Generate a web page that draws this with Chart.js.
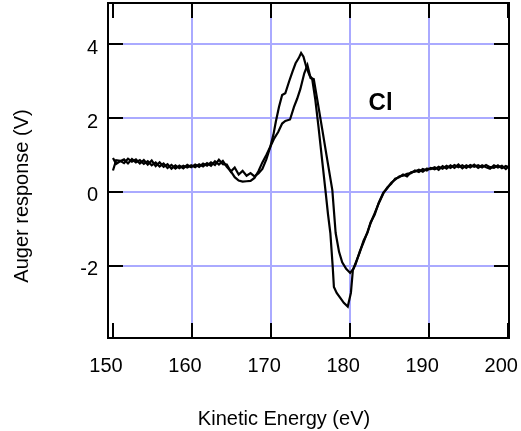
<!DOCTYPE html>
<html>
<head>
<meta charset="utf-8">
<script src="https://cdn.jsdelivr.net/npm/chart.js@4"></script>
<style>
  html, body { margin: 0; padding: 0; background: #fff; }
  #wrap { width: 521px; height: 431px; }
</style>
</head>
<body>
<div id="wrap"><canvas id="auger_chart"></canvas></div>
<script>
// first scan (sharper peak, deeper minimum)
const energyA = [
  150.0, 150.4, 150.9, 151.4, 151.9, 152.4, 152.9, 153.4, 153.9, 154.4,
  154.9, 155.4, 155.9, 156.4, 156.9, 157.4, 157.9, 158.4, 158.9, 159.4,
  159.9, 160.4, 160.9, 161.4, 161.9, 162.4, 162.9, 163.4, 163.9, 164.4,
  164.9, 165.4, 165.9, 166.4, 166.9, 167.4, 167.9, 168.4, 168.9, 169.4,
  169.9, 170.3, 170.6, 171.0, 171.4, 171.8, 172.3, 172.7, 173.1, 173.5,
  173.8, 174.1, 174.5, 174.9, 175.2, 175.6, 176.0, 176.5, 176.9, 177.2,
  177.5, 177.8, 177.95, 178.3, 178.8, 179.2, 179.7, 180.1, 180.35, 180.7,
  181.2, 181.7, 182.2, 182.6, 183.1, 183.6, 184.2, 184.7, 185.2, 185.7,
  186.2, 186.7, 187.2, 187.7, 188.2, 188.7, 189.2, 189.7, 190.2, 190.7,
  191.2, 191.7, 192.2, 192.7, 193.2, 193.7, 194.2, 194.7, 195.2, 195.7,
  196.2, 196.7, 197.2, 197.7, 198.2, 198.7, 199.2, 199.7, 200.1,
];
const responseA = [
  0.58, 0.86, 0.84, 0.78, 0.90, 0.82, 0.88, 0.77, 0.86, 0.74,
  0.85, 0.70, 0.80, 0.68, 0.75, 0.63, 0.72, 0.64, 0.71, 0.66,
  0.72, 0.67, 0.75, 0.69, 0.78, 0.71, 0.83, 0.74, 0.84, 0.68,
  0.56, 0.40, 0.31, 0.28, 0.29, 0.30, 0.38, 0.56, 0.80, 1.00,
  1.22, 1.55, 1.90, 2.30, 2.62, 2.67, 3.00, 3.25, 3.48, 3.62,
  3.76, 3.66, 3.35, 3.14, 3.06, 2.49, 1.76, 0.78, 0.00, -0.60,
  -1.11, -2.03, -2.57, -2.73, -2.88, -3.00, -3.10, -2.73, -2.11, -1.95,
  -1.62, -1.36, -1.08, -0.84, -0.58, -0.32, -0.04, 0.12, 0.22, 0.36,
  0.40, 0.47, 0.42, 0.53, 0.55, 0.60, 0.55, 0.63, 0.62, 0.67,
  0.60, 0.70, 0.63, 0.72, 0.65, 0.74, 0.64, 0.72, 0.66, 0.74,
  0.65, 0.72, 0.67, 0.63, 0.72, 0.66, 0.71, 0.62, 0.70,
];

// second scan (shoulder peak, shallower minimum)
const energyB = [
  150.0, 150.4, 150.9, 151.4, 151.9, 152.4, 152.9, 153.4, 153.9, 154.4,
  154.9, 155.4, 155.9, 156.4, 156.9, 157.4, 157.9, 158.4, 158.9, 159.4,
  159.9, 160.4, 160.9, 161.4, 161.9, 162.4, 162.9, 163.4, 163.9, 164.4,
  164.9, 165.4, 165.9, 166.4, 166.9, 167.4, 167.9, 168.4, 168.9, 169.4,
  169.9, 170.4, 170.9, 171.4, 171.8, 172.4, 172.9, 173.3, 173.7, 174.2,
  174.6, 175.0, 175.4, 175.85, 176.5, 177.0, 177.75, 178.17, 178.6, 179.0,
  179.5, 180.0, 180.4, 180.7, 181.2, 181.7, 182.2, 182.6, 183.1, 183.6,
  184.2, 184.7, 185.2, 185.7, 186.2, 186.7, 187.2, 187.7, 188.2, 188.7,
  189.2, 189.7, 190.2, 190.7, 191.2, 191.7, 192.2, 192.7, 193.2, 193.7,
  194.2, 194.7, 195.2, 195.7, 196.2, 196.7, 197.2, 197.7, 198.2, 198.7,
  199.2, 199.7, 200.1,
];
const responseB = [
  0.92, 0.76, 0.83, 0.88, 0.77, 0.89, 0.80, 0.86, 0.76, 0.83,
  0.72, 0.80, 0.69, 0.77, 0.65, 0.73, 0.63, 0.71, 0.64, 0.73,
  0.67, 0.74, 0.68, 0.77, 0.71, 0.80, 0.73, 0.87, 0.75, 0.74,
  0.55, 0.66, 0.47, 0.57, 0.44, 0.51, 0.42, 0.50, 0.62, 0.88,
  1.22, 1.45, 1.62, 1.85, 1.92, 1.96, 2.30, 2.52, 2.78, 3.21,
  3.43, 3.08, 3.05, 2.49, 1.66, 1.01, 0.05, -1.11, -1.62, -1.90,
  -2.08, -2.19, -2.08, -1.92, -1.65, -1.32, -1.10, -0.82, -0.62, -0.30,
  -0.02, 0.10, 0.25, 0.33, 0.42, 0.44, 0.49, 0.51, 0.58, 0.54,
  0.62, 0.58, 0.65, 0.61, 0.68, 0.63, 0.71, 0.65, 0.73, 0.67,
  0.72, 0.65, 0.73, 0.68, 0.72, 0.66, 0.73, 0.67, 0.65, 0.72,
  0.64, 0.70, 0.66,
];

const xTicks = [150, 160, 170, 180, 190, 200];
const yTicks = [-2, 0, 2, 4];
const peakLabel = { text: "Cl", x: 183.85, y: 2.39 };
const xTitle = "Kinetic Energy (eV)";
const yTitle = "Auger response (V)";

const FONT = "'Liberation Sans', Arial, sans-serif";
const GRID = "rgb(170, 170, 255)";
const TICK = 15;

function points(xs, ys) {
  return xs.map((x, i) => ({ x: x, y: ys[i] }));
}

function noPad(s) {
  s.paddingLeft = 0;
  s.paddingRight = 0;
  s.paddingTop = 0;
  s.paddingBottom = 0;
}

// light blue grid that stops at the inner ticks, black box with inward ticks
const framePlugin = {
  id: "frame",
  beforeDatasetsDraw(chart) {
    const { ctx, chartArea: a, scales } = chart;
    ctx.save();
    ctx.strokeStyle = GRID;
    ctx.lineWidth = 2;
    ctx.beginPath();
    xTicks.forEach((v) => {
      const px = Math.round(scales.x.getPixelForValue(v));
      if (px - a.left < TICK || a.right - px < TICK) return;
      ctx.moveTo(px, a.top + TICK);
      ctx.lineTo(px, a.bottom - TICK);
    });
    yTicks.forEach((v) => {
      const py = Math.round(scales.y.getPixelForValue(v));
      ctx.moveTo(a.left + TICK, py);
      ctx.lineTo(a.right - TICK, py);
    });
    ctx.stroke();
    ctx.restore();
  },
  afterDatasetsDraw(chart) {
    const { ctx, chartArea: a, scales } = chart;
    ctx.save();
    ctx.strokeStyle = "#000";
    ctx.lineWidth = 2;
    ctx.strokeRect(a.left, a.top, a.right - a.left, a.bottom - a.top);
    ctx.beginPath();
    xTicks.forEach((v) => {
      const px = Math.round(scales.x.getPixelForValue(v));
      ctx.moveTo(px, a.top);
      ctx.lineTo(px, a.top + TICK);
      ctx.moveTo(px, a.bottom);
      ctx.lineTo(px, a.bottom - TICK);
    });
    yTicks.forEach((v) => {
      const py = Math.round(scales.y.getPixelForValue(v));
      ctx.moveTo(a.left, py);
      ctx.lineTo(a.left + TICK, py);
      ctx.moveTo(a.right, py);
      ctx.lineTo(a.right - TICK, py);
    });
    ctx.stroke();

    ctx.fillStyle = "#000";
    ctx.font = "bold 24px " + FONT;
    ctx.textAlign = "center";
    ctx.textBaseline = "middle";
    ctx.fillText(
      peakLabel.text,
      scales.x.getPixelForValue(peakLabel.x),
      scales.y.getPixelForValue(peakLabel.y)
    );
    ctx.restore();
  },
  afterDraw(chart) {
    const ctx = chart.ctx;
    ctx.save();
    ctx.fillStyle = "#000";
    ctx.font = "20px " + FONT;
    ctx.textAlign = "center";
    ctx.textBaseline = "alphabetic";
    ctx.fillText(xTitle, 284, 425);
    ctx.translate(28, 196);
    ctx.rotate(-Math.PI / 2);
    ctx.fillText(yTitle, 0, 0);
    ctx.restore();
  },
};

const lineStyle = {
  borderColor: "#000",
  borderWidth: 2.2,
  pointRadius: 0,
  fill: false,
  tension: 0,
};

const config = {
  type: "line",
  data: {
    datasets: [
      { label: "scan 1", data: points(energyA, responseA), ...lineStyle },
      { label: "scan 2", data: points(energyB, responseB), ...lineStyle },
    ],
  },
  options: {
    responsive: true,
    maintainAspectRatio: false,
    animation: false,
    layout: { padding: { top: 3, right: 12, left: 0, bottom: 0 } },
    plugins: {
      legend: { display: false },
      tooltip: { enabled: false },
    },
    scales: {
      x: {
        type: "linear",
        min: 149.37,
        max: 200.1,
        afterBuildTicks: (s) => {
          s.ticks = xTicks.map((v) => ({ value: v }));
        },
        afterFit: (s) => {
          s.height = 93;
          noPad(s);
        },
        grid: { display: false, drawTicks: false },
        border: { display: false },
        ticks: {
          color: "#000",
          font: { family: FONT, size: 20 },
          padding: 16,
          labelOffset: -7,
          maxRotation: 0,
          autoSkip: false,
        },
      },
      y: {
        min: -3.95,
        max: 5.11,
        afterBuildTicks: (s) => {
          s.ticks = yTicks.map((v) => ({ value: v }));
        },
        afterFit: (s) => {
          s.width = 108;
          noPad(s);
        },
        grid: { display: false, drawTicks: false },
        border: { display: false },
        ticks: {
          color: "#000",
          font: { family: FONT, size: 20 },
          padding: 10,
          labelOffset: 4,
        },
      },
    },
  },
  plugins: [framePlugin],
};

new Chart(document.getElementById("auger_chart"), config);
</script>
</body>
</html>
